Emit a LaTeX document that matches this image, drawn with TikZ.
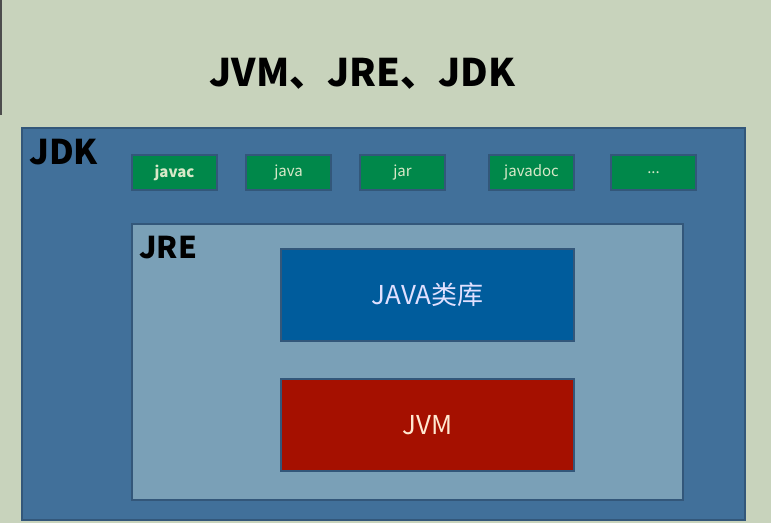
\documentclass[tikz,border=0pt]{standalone}
\usepackage{fontspec}
\setmainfont{Noto Sans CJK SC}
\usepackage{tikz}

\definecolor{bgpaper}{HTML}{C8D3BC}
\definecolor{jdkblue}{HTML}{41709A}
\definecolor{jreblue}{HTML}{7AA0B7}
\definecolor{libblue}{HTML}{005C9C}
\definecolor{vmred}{HTML}{A51000}
\definecolor{toolgreen}{HTML}{00884A}
\definecolor{edge}{HTML}{33577A}
\definecolor{tooltext}{HTML}{D8E8C8}

\tikzset{
  panel/.style={draw=edge, line width=1.2pt, inner sep=0pt},
  toolbox/.style={panel, fill=toolgreen, minimum width=85pt, minimum height=35pt,
    text=tooltext, font=\fontsize{15}{18}\selectfont},
  bigbox/.style={panel, minimum width=293pt, minimum height=92pt,
    font=\fontsize{26}{30}\selectfont},
  heading/.style={inner sep=0pt, anchor=base west, font=\bfseries\fontsize{34}{40}\selectfont}
}

\begin{document}
\begin{tikzpicture}[x=1pt,y=-1pt]
      \fill[bgpaper] (0,0) rectangle (771,523);
      \useasboundingbox (0,0) rectangle (771,523);
      \draw[black!70, line width=2pt] (1,0) -- (1,115);

      \node[inner sep=0pt, anchor=base, font=\bfseries\fontsize{38}{44}\selectfont] (title) at (362.5,86) {JVM、JRE、JDK};

      \node[panel, fill=jdkblue, minimum width=723pt, minimum height=392pt] (jdk) at (383.5,324) {};
      \node[heading] (jdklabel) at (29,164) {JDK};

      \node[toolbox, font=\bfseries\fontsize{15}{18}\selectfont] (javac) at (174.5,172.5) {javac};
      \node[toolbox] (java) at (288.5,172.5) {java};
      \node[toolbox] (jar) at (402.5,172.5) {jar};
      \node[toolbox] (javadoc) at (531.5,172.5) {javadoc};
      \node[toolbox] (more) at (653.5,172.5) {...};

      \node[panel, fill=jreblue, minimum width=551pt, minimum height=276pt] (jre) at (407.5,362) {};
      \node[heading, font=\bfseries\fontsize{30}{36}\selectfont] (jrelabel) at (139,258) {JRE};

      \node[bigbox, fill=libblue, text=blue!12!white] (lib) at (427.5,295) {JAVA类库};
      \node[bigbox, fill=vmred, text=orange!18!white] (jvm) at (427.5,425) {JVM};
    \end{tikzpicture}
\end{document}
